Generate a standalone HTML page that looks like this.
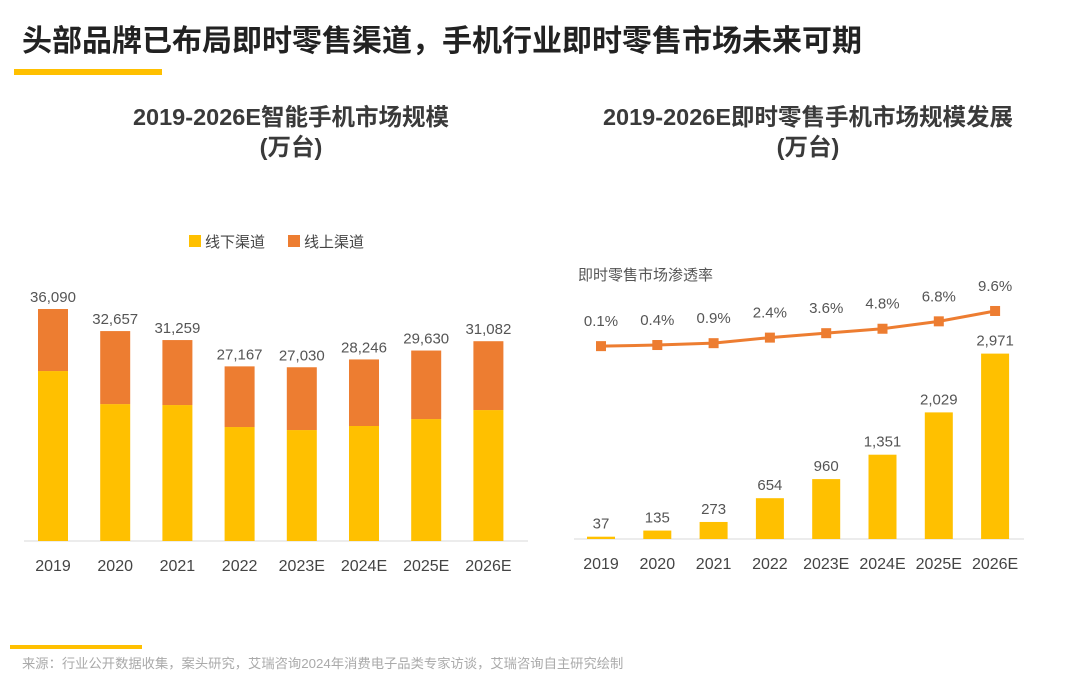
<!DOCTYPE html>
<html><head><meta charset="utf-8">
<style>
body{margin:0;width:1080px;height:692px;background:#fff;overflow:hidden;font-family:"Liberation Sans","Noto Sans CJK SC",sans-serif;}
svg text{font-family:"Liberation Sans","Noto Sans CJK SC",sans-serif;}
</style></head>
<body>
<svg id="c" width="1080" height="692">
<text x="22" y="51" font-size="30" font-weight="bold" fill="#222">头部品牌已布局即时零售渠道，手机行业即时零售市场未来可期</text>
<rect x="14" y="69" width="148" height="6" fill="#FFC000"/>
<text x="291" y="125" font-size="23.5" font-weight="bold" fill="#3a3a3a" text-anchor="middle">2019-2026E智能手机市场规模</text>
<text x="291" y="155" font-size="23.5" font-weight="bold" fill="#3a3a3a" text-anchor="middle">(万台)</text>
<text x="808" y="125" font-size="23.5" font-weight="bold" fill="#3a3a3a" text-anchor="middle">2019-2026E即时零售手机市场规模发展</text>
<text x="808" y="155" font-size="23.5" font-weight="bold" fill="#3a3a3a" text-anchor="middle">(万台)</text>
<rect x="189" y="235" width="12" height="12" fill="#FFC000"/>
<text x="205" y="247" font-size="15" fill="#444">线下渠道</text>
<rect x="288" y="235" width="12" height="12" fill="#ED7D31"/>
<text x="304" y="247" font-size="15" fill="#444">线上渠道</text>
<text x="578" y="280" font-size="15" fill="#555">即时零售市场渗透率</text>
<line x1="24" y1="541" x2="528" y2="541" stroke="#d9d9d9"/>
<line x1="574" y1="539" x2="1024" y2="539" stroke="#d9d9d9"/>
<g id="left"></g><g id="right"></g>
<rect x="10" y="645" width="132" height="4" fill="#FFC000"/>
<text x="22" y="668" font-size="13.3" fill="#aaa">来源：行业公开数据收集，案头研究，艾瑞咨询2024年消费电子品类专家访谈，艾瑞咨询自主研究绘制</text>
</svg>
<script>
const years=["2019","2020","2021","2022","2023E","2024E","2025E","2026E"];
const totals=[36090,32657,31259,27167,27030,28246,29630,31082];
const offline=[26440,21300,21150,17730,17260,17890,18970,20370];
const instant=[37,135,273,654,960,1351,2029,2971];
const penetration=[0.1,0.4,0.9,2.4,3.6,4.8,6.8,9.6];
const NS="http://www.w3.org/2000/svg";
function mk(p,t,a,txt){const e=document.createElementNS(NS,t);for(const k in a)e.setAttribute(k,a[k]);if(txt!==undefined)e.textContent=txt;p.appendChild(e);return e;}
const fmt=v=>v.toLocaleString('en-US');
const L=document.getElementById('left'),R=document.getElementById('right');
const lx=i=>53+i*62.2, ly=v=>541-v*0.006428;
years.forEach((y,i)=>{
 let b=mk(L,'rect',{x:lx(i)-15,y:ly(offline[i]),width:30,height:541-ly(offline[i]),fill:'#FFC000'});
 
 b=mk(L,'rect',{x:lx(i)-15,y:ly(totals[i]),width:30,height:ly(offline[i])-ly(totals[i]),fill:'#ED7D31'});
 
 let t=mk(L,'text',{x:lx(i),y:ly(totals[i])-7,'font-size':15,fill:'#555','text-anchor':'middle'},fmt(totals[i]));
 
 t=mk(L,'text',{x:lx(i),y:571,'font-size':16,fill:'#444','text-anchor':'middle'},y);
 
});
const rx=i=>601+i*56.3, ry=v=>539-v*0.0624, py=v=>346.5-v*3.7;
let pts=[];
years.forEach((y,i)=>{
 let b=mk(R,'rect',{x:rx(i)-14,y:ry(instant[i]),width:28,height:539-ry(instant[i]),fill:'#FFC000'});
 
 let t=mk(R,'text',{x:rx(i),y:ry(instant[i])-8,'font-size':15,fill:'#555','text-anchor':'middle'},fmt(instant[i]));
 
 t=mk(R,'text',{x:rx(i),y:569,'font-size':16,fill:'#444','text-anchor':'middle'},y);
 
 pts.push(rx(i)+','+py(penetration[i]));
});
const pl=mk(R,'polyline',{points:pts.join(' '),fill:'none',stroke:'#ED7D31','stroke-width':3});

years.forEach((y,i)=>{
 let m=mk(R,'rect',{x:rx(i)-5,y:py(penetration[i])-5,width:10,height:10,fill:'#ED7D31'});
 
 let t=mk(R,'text',{x:rx(i),y:py(penetration[i])-20,'font-size':15,fill:'#555','text-anchor':'middle'},penetration[i].toFixed(1)+'%');
 
});
</script>
</body></html>
